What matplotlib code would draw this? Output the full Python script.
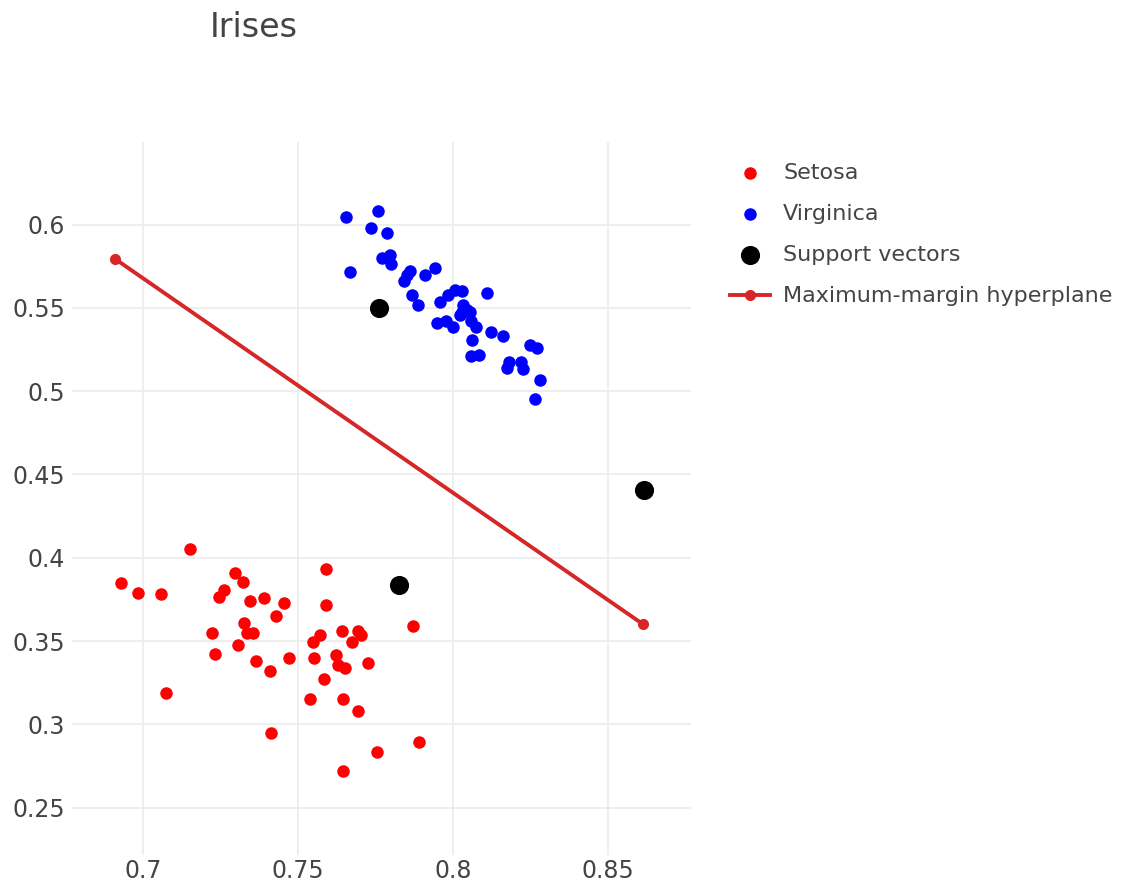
import matplotlib
matplotlib.use("Agg")
import matplotlib.pyplot as plt
from matplotlib.ticker import FuncFormatter, MultipleLocator

# Setosa (red)
setosa_x = [0.7150, 0.6929, 0.6983, 0.7059, 0.7297, 0.7323, 0.7261, 0.7244, 0.7344, 0.7390,
            0.7454, 0.7430, 0.7325, 0.7334, 0.7353, 0.7222, 0.7306, 0.7232, 0.7364, 0.7408,
            0.7471, 0.7075, 0.7413, 0.7552, 0.7582, 0.7538, 0.7547, 0.7571, 0.7591, 0.7591,
            0.7869, 0.7643, 0.7693, 0.7702, 0.7675, 0.7622, 0.7629, 0.7651, 0.7724, 0.7646,
            0.7694, 0.7754, 0.7890, 0.7644]
setosa_y = [0.4050, 0.3851, 0.3788, 0.3782, 0.3911, 0.3855, 0.3806, 0.3762, 0.3739, 0.3758,
            0.3729, 0.3650, 0.3606, 0.3547, 0.3547, 0.3550, 0.3475, 0.3420, 0.3382, 0.3321,
            0.3400, 0.3188, 0.2947, 0.3400, 0.3271, 0.3154, 0.3495, 0.3539, 0.3931, 0.3717,
            0.3588, 0.3563, 0.3563, 0.3537, 0.3493, 0.3414, 0.3354, 0.3340, 0.3370, 0.3151,
            0.3080, 0.2833, 0.2897, 0.2718]

# Virginica (blue)
virginica_x = [0.7654, 0.7756, 0.7735, 0.7785, 0.7667, 0.7769, 0.7796, 0.7799, 0.7841, 0.7852,
               0.7860, 0.7908, 0.7941, 0.7868, 0.7887, 0.7957, 0.7984, 0.8005, 0.8027, 0.8110,
               0.8032, 0.8043, 0.8022, 0.8059, 0.8073, 0.7948, 0.7978, 0.8000, 0.8062, 0.8122,
               0.8159, 0.8056, 0.8084, 0.8181, 0.8172, 0.8220, 0.8226, 0.8249, 0.8269, 0.8280,
               0.8265, 0.8027, 0.8054]
virginica_y = [0.6044, 0.6081, 0.5980, 0.5949, 0.5713, 0.5798, 0.5818, 0.5764, 0.5661, 0.5697,
               0.5721, 0.5697, 0.5741, 0.5576, 0.5519, 0.5535, 0.5580, 0.5606, 0.5600, 0.5592,
               0.5515, 0.5485, 0.5455, 0.5424, 0.5384, 0.5410, 0.5424, 0.5388, 0.5309, 0.5358,
               0.5329, 0.5208, 0.5216, 0.5172, 0.5141, 0.5172, 0.5135, 0.5277, 0.5257, 0.5065,
               0.4954, 0.5475, 0.5475]

# Support vectors
sv_x = [0.7761, 0.7826, 0.8615]
sv_y = [0.5499, 0.3838, 0.4404]

# Hyperplane endpoints
line_x = [0.6911, 0.8612]
line_y = [0.5792, 0.3601]

fig = plt.figure(figsize=(11.26, 8.88), dpi=100)
ax = fig.add_axes([0.064, 0.037, 0.550, 0.803])

ax.scatter(setosa_x, setosa_y, s=81, color="#ff0000", label="Setosa", zorder=3, linewidths=0)
ax.scatter(virginica_x, virginica_y, s=81, color="#0000ff", label="Virginica", zorder=3, linewidths=0)
ax.scatter(sv_x, sv_y, s=190, color="#000000", label="Support vectors", zorder=4, linewidths=0)
ax.plot(line_x, line_y, color="#d62728", lw=2.8, marker="o", ms=7,
        label="Maximum-margin hyperplane", zorder=2)

ax.set_xlim(0.6771, 0.8768)
ax.set_ylim(0.2215, 0.6495)
ax.xaxis.set_major_locator(MultipleLocator(0.05))
ax.yaxis.set_major_locator(MultipleLocator(0.05))
fmt = FuncFormatter(lambda v, p: "%g" % round(v, 4))
ax.xaxis.set_major_formatter(fmt)
ax.yaxis.set_major_formatter(fmt)
ax.grid(True, color="#ebebeb", lw=1.2)
ax.set_axisbelow(True)
for s in ax.spines.values():
    s.set_visible(False)
ax.tick_params(length=0, labelsize=17, colors="#444444")
ax.tick_params(axis="y", pad=5)
ax.tick_params(axis="x", pad=3)

fig.text(0.186, 0.969, "Irises", fontsize=24, color="#444444", ha="left", va="center")

fig.legend(loc="upper left", bbox_to_anchor=(0.6305, 0.839), frameon=False,
           fontsize=16, labelcolor="#444444", handlelength=1.8, labelspacing=0.95,
           handletextpad=0.6)

fig.savefig("out.png", dpi=100)
